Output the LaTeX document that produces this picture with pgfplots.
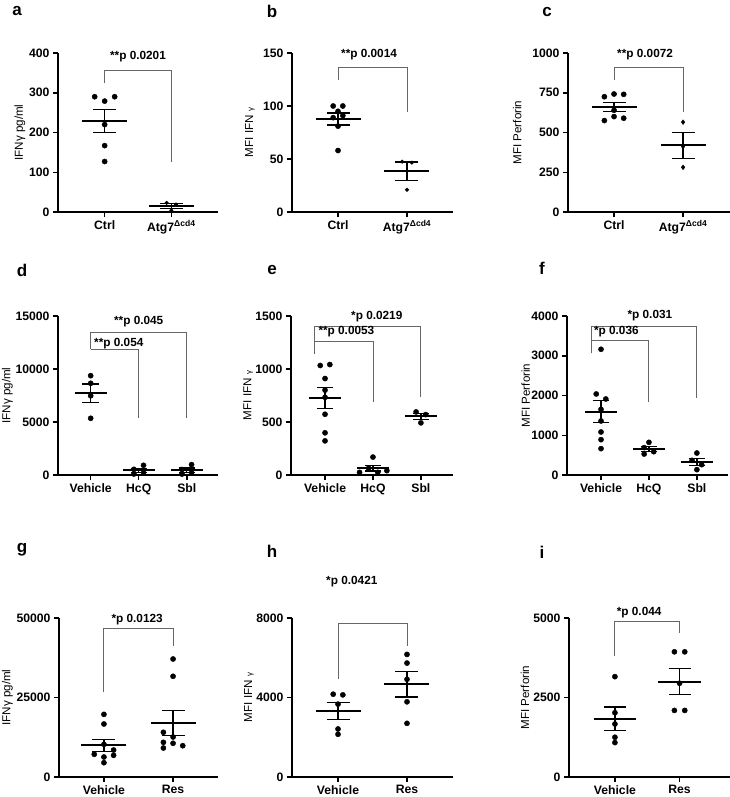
\documentclass[border=0pt]{standalone}
\usepackage{fontspec}
\setmainfont{Liberation Sans}
\usepackage{pgfplots}
\pgfplotsset{compat=1.18}

\pgfplotsset{
  gp/.style={
    scale only axis, height=159pt, ymin=0, anchor=south west, clip=false,
    axis x line=bottom, axis y line=left,
    axis line style={-, line width=1.5pt},
    every tick/.style={black, line width=1.5pt},
    tick align=outside, major tick length=5pt,
    scaled y ticks=false,
    /pgf/number format/assume math mode=true,
    /pgf/number format/1000 sep={},
    tick label style={font=\bfseries\fontsize{12.2}{14}\selectfont},
    ylabel style={font=\fontsize{11.6}{13}\selectfont},
  },
  yl/.style={ylabel style={at={(axis description cs:#1,0.5)}, anchor=center}},
  dots/.style={only marks, mark=*, mark size=2.6pt, black},
  small/.style={only marks, mark=*, mark size=1.8pt, black},
  brk/.style={black!60, line width=0.9pt, mark=none},
  ms/.style 2 args={only marks, mark=-, mark size=#1,
    mark options={black, line width=2pt},
    error bars/.cd, y dir=both, y explicit, error mark=|,
    error mark options={black, mark size=#2, line width=1.3pt},
    error bar style={black, line width=1.3pt}},
}
\tikzset{
  pv/.style={font=\bfseries\fontsize{11.8}{13}\selectfont, inner sep=0pt},
  lt/.style={font=\bfseries\fontsize{17}{20}\selectfont},
}

\begin{document}
\begin{tikzpicture}
\useasboundingbox (0,0) rectangle (730pt,-797pt);

% panel letters
\node[lt] at (17pt,-11pt) {a};
\node[lt] at (272pt,-11pt) {b};
\node[lt] at (547pt,-12pt) {c};
\node[lt] at (22pt,-270pt) {d};
\node[lt] at (272pt,-270pt) {e};
\node[lt] at (542pt,-268pt) {f};
\node[lt] at (22pt,-550pt) {g};
\node[lt] at (272pt,-551pt) {h};
\node[lt] at (542pt,-552pt) {i};

% a
\begin{axis}[gp, at={(58pt,-212pt)}, width=160pt, xmin=-0.7, xmax=1.7,
  ymax=400, ytick={0,100,200,300,400}, xtick={0,1},
  xticklabels={Ctrl, Atg7\textsuperscript{Δcd4}}, ylabel={IFNγ pg/ml}, yl=-0.2375]
\addplot[brk] coordinates {(0,324) (0,357) (1,357) (1,126)};
\addplot[dots] coordinates {(-0.15,290) (0,279) (0.15,290) (0,220) (0,167) (0,127)};
\addplot[small] coordinates {(0.93,23) (1.07,19) (1,4)};
\addplot[ms={22.5pt}{11.5pt}] coordinates {(0,228.8) +- (0,28.4) (1,15.3) +- (0,5.8)};
\node[pv] at (axis cs:0.5,392) {**p 0.0201};
\end{axis}

% b
\begin{axis}[gp, at={(292pt,-212pt)}, width=161pt, xmin=-0.667, xmax=1.667,
  ymax=150, ytick={0,50,100,150}, xtick={0,1},
  xticklabels={Ctrl, Atg7\textsuperscript{Δcd4}}, ylabel={MFI IFN {\footnotesize γ}}, yl=-0.261]
\addplot[brk] coordinates {(0,124.4) (0,135.9) (1,135.9) (1,94.7)};
\addplot[dots] coordinates {(-0.07,100) (0.07,100) (0,95) (-0.07,89) (0.07,91) (0,81) (0,58)};
\addplot[small] coordinates {(0.93,47.5) (1.07,46.6) (1,21)};
\addplot[ms={22.5pt}{11.5pt}] coordinates {(0,87.8) +- (0,5.6) (1,38.4) +- (0,8.7)};
\node[pv] at (axis cs:0.45,148.7) {**p 0.0014};
\end{axis}

% c
\begin{axis}[gp, at={(568pt,-212pt)}, width=162pt, xmin=-0.667, xmax=1.68,
  ymax=1000, ytick={0,250,500,750,1000}, xtick={0,1},
  xticklabels={Ctrl, Atg7\textsuperscript{Δcd4}}, ylabel={MFI Perforin}, yl=-0.313]
\addplot[brk] coordinates {(0,829) (0,906) (1,906) (1,631)};
\addplot[dots] coordinates {(-0.14,725) (0,742) (0.14,740) (0,640) (-0.14,575) (0,600) (0.14,590)};
\addplot[small, mark=diamond*, mark size=2.4pt] coordinates {(1,565) (1,412) (1,281)};
\addplot[ms={22.5pt}{11.5pt}] coordinates {(0,658.9) +- (0,28.2) (1,419.3) +- (0,82)};
\node[pv] at (axis cs:0.45,992) {**p 0.0072};
\end{axis}

% d
\begin{axis}[gp, at={(58pt,-475pt)}, width=160pt, xmin=-0.68, xmax=2.65,
  ymax=15000, ytick={0,5000,10000,15000}, xtick={0,1,2},
  xticklabels={Vehicle, HcQ, Sbl}, ylabel={IFNγ pg/ml}, yl=-0.316]
\addplot[brk] coordinates {(0,11870) (0,13436) (2,13436) (2,5356)};
\addplot[brk] coordinates {(0,11870) (1,11870) (1,5356)};
\addplot[dots] coordinates {(0,9370) (0,8650) (0,7480) (0,5350)};
\addplot[dots] coordinates {(0.9,535) (1.1,915) (0.9,94) (1.1,220)};
\addplot[dots] coordinates {(1.9,520) (2.1,980) (1.9,90) (2.1,210)};
\addplot[ms={16pt}{8.2pt}] coordinates {(0,7712) +- (0,879) (1,441) +- (0,183) (2,450) +- (0,199)};
\node[pv] at (axis cs:1,14460) {**p 0.045};
\node[pv, anchor=west] at (axis cs:0.07,12425) {**p 0.054};
\end{axis}

% e
\begin{axis}[gp, at={(291pt,-475pt)}, width=162pt, xmin=-0.71, xmax=2.67,
  ymax=1500, ytick={0,500,1000,1500}, xtick={0,1,2},
  xticklabels={Vehicle, HcQ, Sbl}, ylabel={MFI IFN {\footnotesize γ}}, yl=-0.264]
\addplot[brk] coordinates {(-0.23,1146) (-0.23,1400) (2,1400) (2,739)};
\addplot[brk] coordinates {(-0.23,1256) (1,1256) (1,692)};
\addplot[dots] coordinates {(-0.1,1033) (0.1,1042) (0,910) (0,801) (0,733) (0,573) (0,398) (0,322)};
\addplot[dots] coordinates {(1,169) (0.72,25) (0.91,63) (1.1,25) (1.29,41)};
\addplot[dots] coordinates {(1.9,595) (2.1,570) (2,492)};
\addplot[ms={16pt}{8.2pt}] coordinates {(0,726.5) +- (0,97) (1,64.6) +- (0,27) (2,552) +- (0,31)};
\node[pv] at (axis cs:1.08,1493) {*p 0.0219};
\node[pv, anchor=west] at (axis cs:-0.14,1349) {**p 0.0053};
\end{axis}

% f
\begin{axis}[gp, at={(567pt,-475pt)}, width=161pt, xmin=-0.71, xmax=2.65,
  ymax=4000, ytick={0,1000,2000,3000,4000}, xtick={0,1,2},
  xticklabels={Vehicle, HcQ, Sbl}, ylabel={MFI Perforin}, yl=-0.257]
\addplot[brk] coordinates {(-0.2,3062) (-0.2,3741) (2,3741) (2,1946)};
\addplot[brk] coordinates {(-0.2,3374) (1,3374) (1,1845)};
\addplot[dots] coordinates {(0,3163) (-0.1,2038) (0.1,1912) (0,1652) (0,1359) (0,1082) (0,889) (0,663)};
\addplot[dots] coordinates {(1,822) (0.9,688) (1.1,587) (0.9,528)};
\addplot[dots] coordinates {(2,553) (1.9,369) (2.1,260) (2,134)};
\addplot[ms={16pt}{8.2pt}] coordinates {(0,1594.8) +- (0,281.7) (1,656) +- (0,64) (2,329) +- (0,88.8)};
\node[pv] at (axis cs:1.02,4000) {*p 0.031};
\node[pv, anchor=west] at (axis cs:-0.15,3598) {*p 0.036};
\end{axis}

% g
\begin{axis}[gp, at={(59pt,-777pt)}, width=159pt, xmin=-0.65, xmax=1.65,
  ymax=50000, ytick={0,25000,50000}, xtick={0,1},
  xticklabels={Vehicle, Res}, ylabel={IFNγ pg/ml}, yl=-0.325]
\addplot[brk] coordinates {(0,26720) (0,46850) (1,46850) (1,41080)};
\addplot[dots] coordinates {(0,19700) (0,16670) (0,10280) (-0.14,7140) (0.14,8490) (0.14,6820) (0,6290) (0,4500)};
\addplot[dots] coordinates {(1,37110) (1,31670) (0.86,14060) (1,12580) (0.86,10910) (1,10600) (1.14,9840) (0.86,9120)};
\addplot[ms={22.5pt}{11.5pt}] coordinates {(0,9986) +- (0,1905) (1,16986) +- (0,3871)};
\node[pv] at (axis cs:0.48,49470) {*p 0.0123};
\end{axis}

% h
\begin{axis}[gp, at={(292pt,-777pt)}, width=161pt, xmin=-0.667, xmax=1.667,
  ymax=8000, ytick={0,4000,8000}, xtick={0,1},
  xticklabels={Vehicle, Res}, ylabel={MFI IFN {\footnotesize γ}}, yl=-0.267]
\addplot[brk] coordinates {(0,4950) (0,7733) (1,7733) (1,6567)};
\addplot[dots] coordinates {(-0.07,4167) (0.07,4133) (0,3667) (0,2417) (0,2150)};
\addplot[dots] coordinates {(1,6167) (1,5733) (1,4917) (1,3783) (1,2700)};
\addplot[ms={22.5pt}{11.5pt}] coordinates {(0,3307) +- (0,429) (1,4660) +- (0,636)};
\node[pv] at (axis cs:0.2,9826) {*p 0.0421};
\end{axis}

% i
\begin{axis}[gp, at={(569pt,-777pt)}, width=161pt, xmin=-0.71, xmax=1.78,
  ymax=5000, ytick={0,2500,5000}, xtick={0,1},
  xticklabels={Vehicle, Res}, ylabel={MFI Perforin}, yl=-0.273]
\addplot[brk] coordinates {(0,3792) (0,4896) (1,4896) (1,4542)};
\addplot[dots] coordinates {(0,3156) (0,2021) (0,1667) (0,1250) (0,1083)};
\addplot[dots] coordinates {(0.92,3937) (1.08,3937) (1,2948) (0.92,2094) (1.08,2094)};
\addplot[ms={21.3pt}{11pt}] coordinates {(0,1835) +- (0,368) (1,3002) +- (0,412)};
\node[pv] at (axis cs:0.375,5177) {*p 0.044};
\end{axis}
\end{tikzpicture}
\end{document}
